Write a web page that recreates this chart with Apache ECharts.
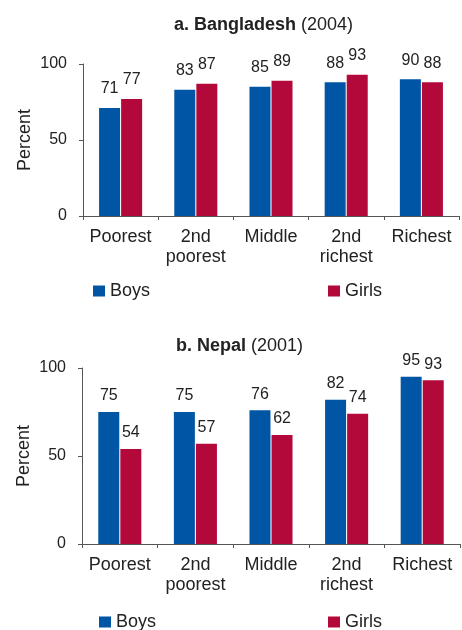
<!DOCTYPE html>
<html>
<head>
<meta charset="utf-8">
<script src="https://cdn.jsdelivr.net/npm/echarts@6/dist/echarts.min.js"></script>
<style>
  html, body { margin: 0; padding: 0; background: #fff; }
  #chart { width: 462px; height: 630px; }
</style>
</head>
<body>
<div id="chart"></div>
<script>
// quintiles
var categories = ['Poorest', '2nd\npoorest', 'Middle', '2nd\nrichest', 'Richest']
var yTicks = [0, 50, 100]

// a. Bangladesh (2004)
var bangladeshBoys = [71, 83, 85, 88, 90]
var bangladeshGirls = [77, 87, 89, 93, 88]

// b. Nepal (2001)
var nepalBoys = [75, 75, 76, 82, 95]
var nepalGirls = [54, 57, 62, 74, 93]

var BLUE = '#0055a4'
var RED = '#b3093a'
var FONT = 'Liberation Sans, Arial, sans-serif'

var chart = echarts.init(document.getElementById('chart'), null, { renderer: 'canvas' })

function xAxisOf(idx) {
  return {
    type: 'category',
    gridIndex: idx,
    data: categories,
    axisLine: { lineStyle: { color: '#555', width: 1 } },
    axisTick: { show: true, length: 4, lineStyle: { color: '#555' } },
    axisLabel: { color: '#222', fontSize: 18, lineHeight: 20, margin: 11, fontFamily: FONT, interval: 0 }
  }
}

function yAxisOf(idx) {
  return {
    type: 'value',
    gridIndex: idx,
    min: yTicks[0],
    max: yTicks[yTicks.length - 1],
    interval: 50,
    name: 'Percent',
    nameLocation: 'middle',
    nameGap: 49,
    nameMoveOverlap: false,
    nameTextStyle: { color: '#222', fontSize: 18, fontFamily: FONT },
    axisLine: { show: true, lineStyle: { color: '#555', width: 1 } },
    axisTick: { show: true, length: 4, lineStyle: { color: '#555' } },
    axisLabel: { color: '#222', fontSize: 16, margin: 16, fontFamily: FONT },
    splitLine: { show: false }
  }
}

function barOf(name, data, color, idx, dist) {
  return {
    type: 'bar',
    name: name,
    xAxisIndex: idx,
    yAxisIndex: idx,
    data: data,
    barWidth: 21,
    barGap: '5%',
    itemStyle: { color: color },
    label: {
      show: true,
      position: 'top',
      distance: dist,
      color: '#222',
      fontSize: 16,
      fontFamily: FONT
    }
  }
}

function legendOf(left, top, gap) {
  return {
    left: left,
    top: top,
    icon: 'rect',
    itemWidth: 12,
    itemHeight: 11,
    itemGap: gap,
    selectedMode: false,
    textStyle: { color: '#222', fontSize: 18, fontFamily: FONT },
    data: ['Boys', 'Girls']
  }
}

function titleOf(text, left, top) {
  return {
    text: text,
    left: left,
    top: top,
    textStyle: {
      fontSize: 18,
      fontFamily: FONT,
      color: '#222',
      rich: {
        b: { fontWeight: 'bold', fontSize: 18, fontFamily: FONT, color: '#222' },
        n: { fontWeight: 'normal', fontSize: 18, fontFamily: FONT, color: '#222' }
      }
    }
  }
}

var option = {
  animation: false,
  title: [
    titleOf('{b|a. Bangladesh} {n|(2004)}', 169, 11),
    titleOf('{b|b. Nepal} {n|(2001)}', 171, 332)
  ],
  legend: [legendOf(88, 277, 178), legendOf(94, 608, 172)],
  grid: [
    { left: 83, right: 3, top: 64, bottom: 414 },
    { left: 82, right: 2, top: 368, bottom: 86 }
  ],
  xAxis: [xAxisOf(0), xAxisOf(1)],
  yAxis: [yAxisOf(0), yAxisOf(1)],
  series: [
    barOf('Boys', bangladeshBoys, BLUE, 0, 11),
    barOf('Girls', bangladeshGirls, RED, 0, 11),
    barOf('Boys', nepalBoys, BLUE, 1, 8),
    barOf('Girls', nepalGirls, RED, 1, 8)
  ]
}

chart.setOption(option)
</script>
</body>
</html>
